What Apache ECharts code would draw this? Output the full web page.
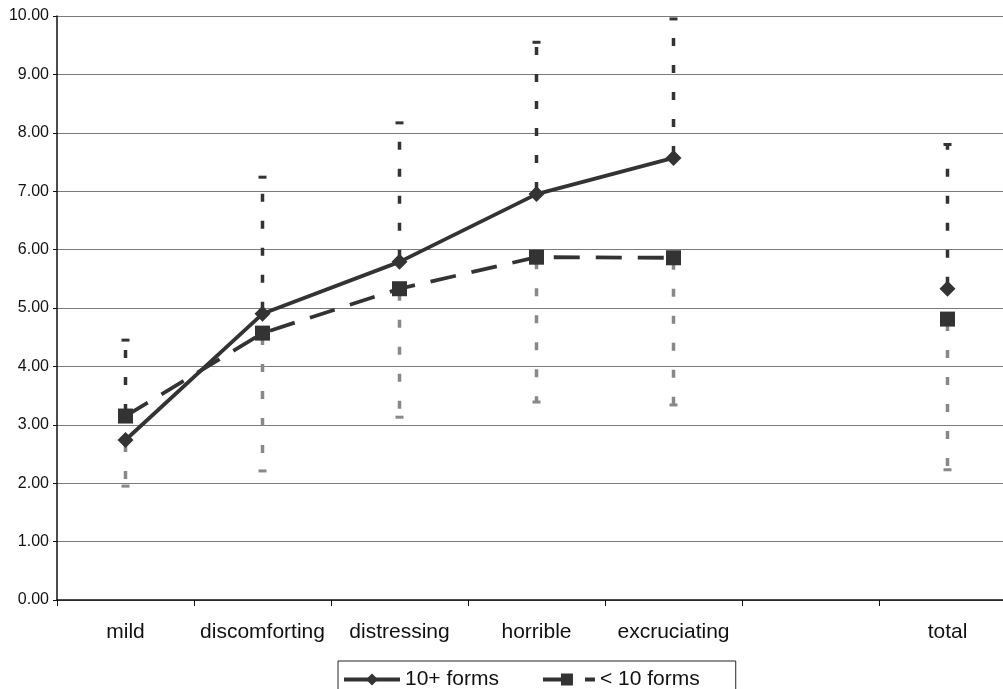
<!DOCTYPE html>
<html><head><meta charset="utf-8">
<script src="https://cdn.jsdelivr.net/npm/echarts@6/dist/echarts.min.js"></script>
<style>html,body{margin:0;padding:0;background:#fff;overflow:hidden}#c{width:1003px;height:689px}</style>
</head><body><div id="c"></div>
<script>
const categories = ['mild','discomforting','distressing','horrible','excruciating','','total'];
const forms10plus = [2.74, 4.90, 5.79, 6.95, 7.57, null, 5.33];
const formsUnder10 = [3.15, 4.57, 5.33, 5.87, 5.86, null, 4.81];
const upperBound = [4.45, 7.24, 8.17, 9.55, 9.95, null, 7.80];
const lowerBound = [1.95, 2.21, 3.13, 3.39, 3.34, null, 2.23];

const upperData = [], lowerData = [];
categories.forEach((c,i)=>{
  if (upperBound[i] == null) return;
  const a = forms10plus[i], b = formsUnder10[i];
  upperData.push([i, Math.max(a,b), upperBound[i]]);
  lowerData.push([i, Math.min(a,b), lowerBound[i]]);
});

function errRender(color){
  return function(params, api){
    const x = api.value(0);
    const p0 = api.coord([x, api.value(1)]);
    const p1 = api.coord([x, api.value(2)]);
    return {type:'group', children:[
      {type:'line', shape:{x1:p0[0],y1:p0[1],x2:p1[0],y2:p1[1]},
       style:{stroke:color,lineWidth:3.5,lineDash:[8,19],lineDashOffset:-4}},
      {type:'line', shape:{x1:p1[0]-4,y1:p1[1],x2:p1[0]+4,y2:p1[1]},
       style:{stroke:color,lineWidth:3}}
    ]};
  };
}

const chart = echarts.init(document.getElementById('c'));
chart.setOption({
  animation:false,
  textStyle:{fontFamily:'Liberation Sans, Arial, sans-serif'},
  grid:{left:57, top:16, width:959, height:584, containLabel:false, outerBoundsMode:'none'},
  legend:{
    left:338, top:661,
    data:['10+ forms','< 10 forms'],
    itemWidth:56, itemHeight:15, itemGap:38,
    borderColor:'#222', borderWidth:1,
    padding:[8,36,20,4],
    lineStyle:{width:4},
    textStyle:{fontSize:21,color:'#111',fontFamily:'Liberation Sans, Arial, sans-serif'}
  },
  xAxis:{
    type:'category', data:categories, boundaryGap:true,
    axisLine:{lineStyle:{color:'#111',width:1.5}},
    axisTick:{show:true,length:6,lineStyle:{color:'#111'}},
    axisLabel:{fontSize:21,color:'#111',margin:22,interval:0},
    splitLine:{show:false}
  },
  yAxis:{
    type:'value', min:0, max:10, interval:1,
    axisLine:{show:true,lineStyle:{color:'#111',width:1.5}},
    axisTick:{show:true,length:4,lineStyle:{color:'#111'}},
    axisLabel:{fontSize:16,color:'#111',margin:8,formatter:v=>v.toFixed(2)},
    splitLine:{lineStyle:{color:'#7a7a7a',width:1.2}}
  },
  series:[
    {type:'custom', name:'upper', z:1, renderItem:errRender('#333'), data:upperData, encode:{x:0,y:[1,2]}, silent:true},
    {type:'custom', name:'lower', z:1, renderItem:errRender('#888'), data:lowerData, encode:{x:0,y:[1,2]}, silent:true},
    {type:'line', name:'10+ forms', z:3, data:forms10plus, symbol:'diamond', symbolSize:16,
     showAllSymbol:true, connectNulls:false,
     lineStyle:{color:'#333',width:3.8}, itemStyle:{color:'#333'}},
    {type:'line', name:'< 10 forms', z:2, data:formsUnder10, symbol:'rect', symbolSize:15,
     showAllSymbol:true, connectNulls:false,
     lineStyle:{color:'#333',width:3.8,type:[26,16]}, itemStyle:{color:'#333'}}
  ]
});
</script></body></html>
